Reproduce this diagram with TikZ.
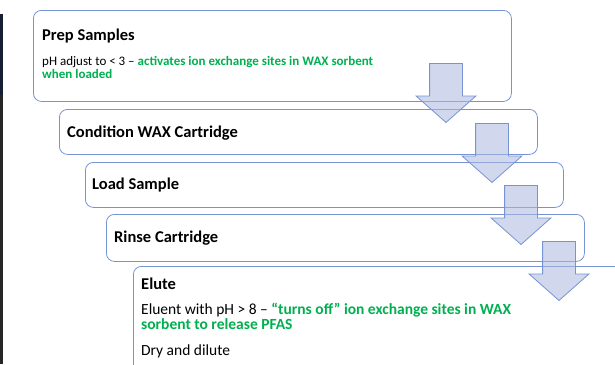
\documentclass[tikz,border=0pt]{standalone}
\usepackage{fontspec}
\setmainfont{Carlito}
\usetikzlibrary{shapes.arrows}

\definecolor{boxline}{RGB}{118,148,212}
\definecolor{arrowfill}{RGB}{172,184,224}
\definecolor{waxgreen}{RGB}{0,176,80}
\definecolor{edgenavy}{RGB}{22,32,52}
\definecolor{edgedark}{RGB}{38,38,38}

\begin{document}
\begin{tikzpicture}[
        x=1pt, y=-1pt,
        box/.style={draw=boxline, line width=0.8pt, rounded corners=8pt, fill=white, anchor=north west, inner sep=0pt},
        steptitle/.style={font=\bfseries\fontsize{16.5}{18}\selectfont, anchor=base west, inner sep=0pt},
        smallnote/.style={font=\fontsize{13}{12.5}\selectfont, align=left, anchor=base west, inner sep=0pt},
        bignote/.style={font=\fontsize{15.5}{14.5}\selectfont, align=left, anchor=base west, inner sep=0pt},
        flecha/.style={shape=single arrow, rotate=-90, anchor=tip, draw=boxline, line width=0.8pt,
            fill=arrowfill, fill opacity=0.55, minimum height=59pt, minimum width=59pt,
            single arrow head extend=13.5pt, single arrow tip angle=97, inner xsep=0pt, inner ysep=16pt}
    ]
        \useasboundingbox (0,0) rectangle (615,364);
        \clip (0,0) rectangle (615,364);

        % screen edge on the left
        \fill[edgenavy] (0,14) rectangle (2.7,95);
        \fill[edgedark] (0,95) rectangle (2.7,364);

        % the five steps
        \node[box, minimum width=478pt, minimum height=91pt] (prep) at (33,10) {};
        \node[box, minimum width=478pt, minimum height=45pt] (cond) at (59,109) {};
        \node[box, minimum width=478pt, minimum height=45pt] (load) at (85,162) {};
        \node[box, minimum width=478pt, minimum height=47pt] (rinse) at (106,214) {};
        \node[box, minimum width=600pt, minimum height=150pt] (elute) at (133,266) {};

        % texts (a node of two lines sits on its last line)
        \node[steptitle] (prept) at (42,40.7) {Prep Samples};
        \node[smallnote] (prepn) at (42,78) {pH adjust to < 3 -- {\color{waxgreen}\bfseries activates ion exchange sites in WAX sorbent}\\
            {\color{waxgreen}\bfseries when loaded}};
        \node[steptitle] (condt) at (67,137) {Condition WAX Cartridge};
        \node[steptitle] (loadt) at (92,189.5) {Load Sample};
        \node[steptitle] (rinset) at (114,242) {Rinse Cartridge};
        \node[steptitle] (elutet) at (141,289) {Elute};
        \node[bignote] (eluten) at (141,329) {Eluent with pH > 8 -- {\color{waxgreen}\bfseries “turns off” ion exchange sites in WAX}\\
            {\color{waxgreen}\bfseries sorbent to release PFAS}};
        \node[bignote] (dry) at (141,355) {Dry and dilute};

        % block arrows between the steps
        \node[flecha] (a1) at (446,123) {};
        \node[flecha] (a2) at (492,183) {};
        \node[flecha] (a3) at (521,245) {};
        \node[flecha] (a4) at (559,301) {};
    \end{tikzpicture}
\end{document}
